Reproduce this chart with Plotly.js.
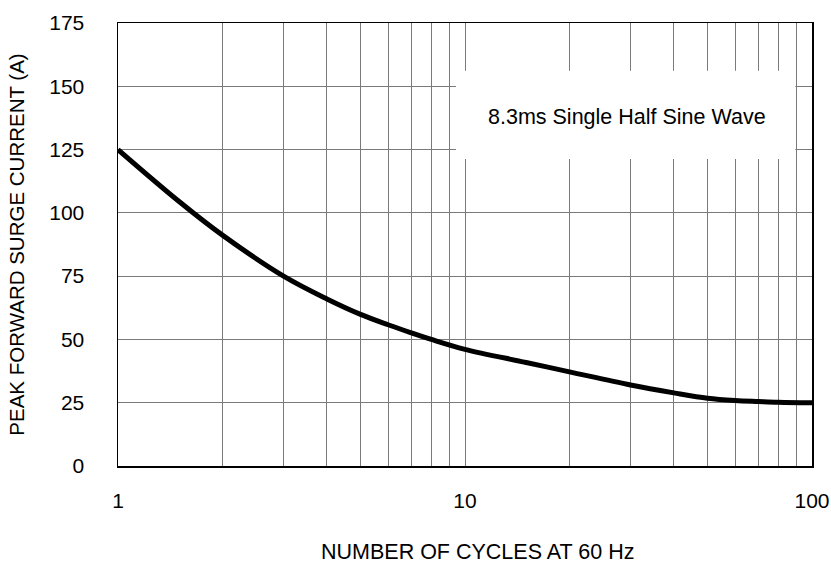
<!DOCTYPE html>
<html>
<head>
<meta charset="utf-8">
<script src="https://cdn.plot.ly/plotly-3.0.1.min.js"></script>
<style>html,body{margin:0;padding:0;background:#fff;}#chart{width:831px;height:567px;}</style>
</head>
<body>
<div id="chart"></div>
<script>
var cycles = [1, 1.5, 2, 3, 4, 5, 6, 7, 8, 10, 15, 20, 30, 40, 50, 60, 70, 80, 100];
var surgeCurrent = [125, 104.5, 91.2, 75.0, 66.0, 59.9, 55.8, 52.6, 50.0, 46.1, 40.9, 37.2, 32.0, 28.9, 26.8, 25.9, 25.5, 25.2, 25.0];
var xMajorTicks = [1, 10, 100];
var xTickLabels = ['1', '10', '100'];
var xMinorTicks = [2, 3, 4, 5, 6, 7, 8, 9, 20, 30, 40, 50, 60, 70, 80, 90];
var yTicks = [0, 25, 50, 75, 100, 125, 150, 175];
var xTitle = 'NUMBER OF CYCLES AT 60 Hz';
var yTitle = 'PEAK FORWARD SURGE CURRENT (A)';
var noteText = '8.3ms Single Half Sine Wave';

var fam = 'Arial, "Liberation Sans", sans-serif';
var tickFont = {family: fam, size: 21, color: '#000'};
var gridColor = '#7a7a7a';

var trace = {
  x: cycles, y: surgeCurrent, type: 'scatter', mode: 'lines',
  line: {color: '#000', width: 5, shape: 'spline', smoothing: 1.0},
  hoverinfo: 'skip', showlegend: false
};

var layout = {
  width: 831, height: 567,
  margin: {l: 118, r: 18.5, t: 23, b: 100.5},
  paper_bgcolor: '#fff', plot_bgcolor: '#fff',
  font: tickFont,
  showlegend: false,
  xaxis: {
    type: 'log', range: [0, 2],
    tickmode: 'array', tickvals: xMajorTicks, ticktext: xTickLabels,
    ticks: '', ticklabelstandoff: 15,
    showgrid: true, gridcolor: gridColor, gridwidth: 1,
    minor: {tickmode: 'array', tickvals: xMinorTicks, showgrid: true, gridcolor: gridColor, gridwidth: 1, ticks: ''},
    showline: true, linecolor: '#000', linewidth: 1.5, mirror: true,
    zeroline: false, tickfont: tickFont
  },
  yaxis: {
    range: [0, 175], tickmode: 'array', tickvals: yTicks,
    ticks: '', ticklabelstandoff: 28,
    showgrid: true, gridcolor: gridColor, gridwidth: 1,
    showline: true, linecolor: '#000', linewidth: 1.5, mirror: true,
    zeroline: false, tickfont: tickFont,
    title: {text: yTitle, font: {family: fam, size: 20.5, color: '#000'}, standoff: 19}
  },
  shapes: [{
    type: 'rect', xref: 'paper', yref: 'paper',
    x0: 0.487, x1: 0.976, y0: 0.693, y1: 0.892,
    fillcolor: '#fff', line: {width: 0}, layer: 'above'
  }],
  annotations: [{
    xref: 'paper', yref: 'paper', x: 0.734, y: 0.787,
    xanchor: 'center', yanchor: 'middle', showarrow: false,
    text: noteText, font: {family: fam, size: 21.5, color: '#000'}
  }, {
    xref: 'paper', yref: 'paper', x: 0.518, y: -0.195,
    xanchor: 'center', yanchor: 'middle', showarrow: false,
    text: xTitle, font: {family: fam, size: 21.5, color: '#000'}
  }]
};

Plotly.newPlot('chart', [trace], layout, {staticPlot: true, displayModeBar: false});
</script>
</body>
</html>
